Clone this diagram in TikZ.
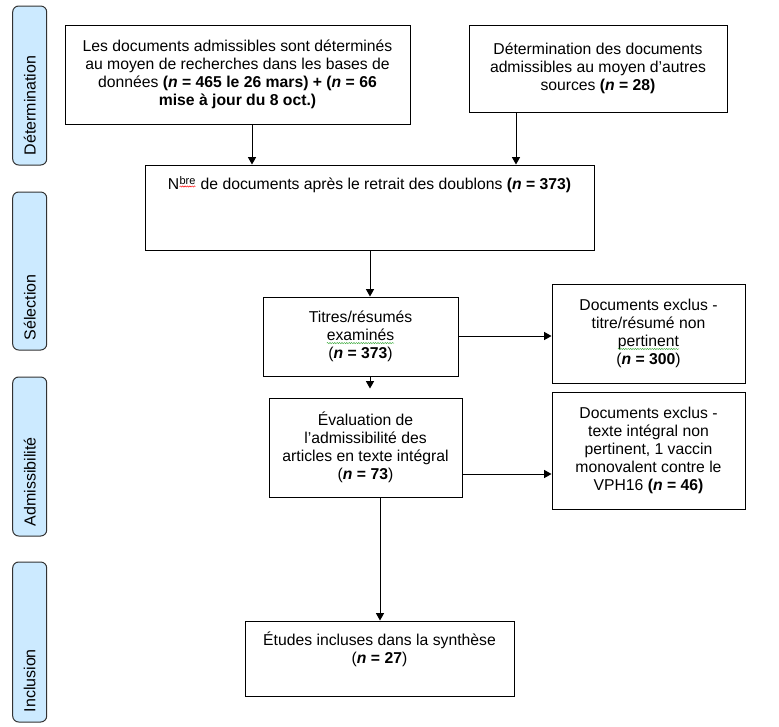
\documentclass[tikz,border=0pt]{standalone}
\usepackage{fontspec}
\setmainfont{Liberation Sans}
\usetikzlibrary{arrows.meta,decorations.pathmorphing}
\definecolor{phasefill}{RGB}{204,234,255}
\definecolor{phaseline}{RGB}{50,50,50}
\definecolor{sqgreen}{RGB}{60,170,60}
\newcommand\sqg[2]{\tikz[baseline=(q.base)]{\node[inner sep=0pt,outer sep=0pt,minimum width=0pt,minimum height=0pt,draw=none,fill=none,shape=rectangle](q){#2};\draw[#1,line width=0.35pt,decorate,decoration={snake,amplitude=0.45pt,segment length=1.8pt}]([yshift=-1.8pt]q.base west)--([yshift=-1.8pt]q.base east);}}
\newcommand\nb[1]{\textbf{\textit{n}~=~#1}}
\begin{document}
\begin{tikzpicture}[x=0.75pt,y=-0.75pt,
  fnt/.style={font=\fontsize{11.8}{13.5}\selectfont},
  box/.style={draw,line width=0.75pt,align=center,inner sep=0pt,fnt},
  txt/.style={align=center,inner sep=0pt,fnt},
  phase/.style={draw=phaseline,fill=phasefill,line width=0.75pt,rounded corners=4.5pt,inner sep=0pt,minimum width=25.5pt},
  phasetxt/.style={rotate=90,anchor=west,inner sep=0pt,font=\fontsize{12}{14}\selectfont},
  arr/.style={line width=0.75pt,-{Triangle[length=5.5pt,width=6pt]}}]
\useasboundingbox (0,0) rectangle (779,726);
% phases
\node[phase,minimum height=119.25pt] (p1) at (29.7,85.5) {};
\node[phasetxt] (p1t) at ([yshift=7.5pt]p1.south) {Détermination};
\node[phase,minimum height=118.5pt] (p2) at (29.7,271) {};
\node[phasetxt] (p2t) at ([yshift=7.5pt]p2.south) {Sélection};
\node[phase,minimum height=119.25pt] (p3) at (29.7,456.5) {};
\node[phasetxt] (p3t) at ([yshift=7.5pt]p3.south) {Admissibilité};
\node[phase,minimum height=120pt] (p4) at (29.7,642) {};
\node[phasetxt] (p4t) at ([yshift=7.5pt]p4.south) {Inclusion};
% boxes
\node[box,minimum width=258.75pt,minimum height=74.25pt] (b1) at (237.5,74.5)
  {Les documents admissibles sont déterminés\\au moyen de recherches dans les bases de\\données \textbf{(\textit{n} = 465 le 26 mars) + (\textit{n} = 66}\\\textbf{mise à jour du 8 oct.)}};
\node[box,minimum width=193.5pt,minimum height=65.25pt] (b2) at (598,68.5)
  {Détermination des documents\\admissibles au moyen d’autres\\sources \textbf{(\textit{n} = 28)}};
\node[box,minimum width=336.75pt,minimum height=63.75pt] (b3) at (369.5,207.5) {};
\node[txt,anchor=north] (b3t) at ([yshift=-8.5pt]b3.north)
  {N\textsuperscript{\sqg{red}{bre}} de documents après le retrait des doublons \textbf{(\textit{n} = 373)}};
\node[box,minimum width=146.25pt,minimum height=59.25pt] (b4) at (360.5,336.5)
  {Titres/résumés\\\sqg{sqgreen}{examinés}\\(\nb{373})};
\node[box,minimum width=144.75pt,minimum height=74.25pt] (b5) at (648.5,333.5)
  {Documents exclus -\\titre/résumé non\\\sqg{sqgreen}{pertinent}\\(\nb{300})};
\node[box,minimum width=144.75pt,minimum height=74.25pt] (b6) at (365.5,447.5)
  {Évaluation de\\l’admissibilité des\\articles en texte intégral\\(\nb{73})};
\node[box,minimum width=144.75pt,minimum height=87.75pt] (b7) at (648.5,450.5)
  {Documents exclus -\\texte intégral non\\pertinent, 1 vaccin\\monovalent contre le\\VPH16 \textbf{(\textit{n} = 46)}};
\node[box,minimum width=201.75pt,minimum height=56.25pt] (b8) at (379.5,658.5) {};
\node[txt,anchor=north] (b8t) at ([yshift=-8.5pt]b8.north)
  {Études incluses dans la synthèse\\(\nb{27})};
% connector guides
\coordinate (xa) at (252,0);
\coordinate (xb) at (516,0);
\coordinate (xc) at (370,0);
\coordinate (xd) at (380,0);
\coordinate (ya) at (0,336);
\coordinate (yb) at (0,474);
% connectors
\draw[arr] (b1.south -| xa) -- (b3.north -| xa);
\draw[arr] (b2.south -| xb) -- (b3.north -| xb);
\draw[arr] (b3.south -| xc) -- (b4.north -| xc);
\draw[arr] (b4.east |- ya) -- (b5.west |- ya);
\draw[arr,shorten >=6.75pt] (b4.south -| xc) -- (b6.north -| xc);
\draw[arr] (b6.east |- yb) -- (b7.west |- yb);
\draw[arr] (b6.south -| xd) -- (b8.north -| xd);
\end{tikzpicture}
\end{document}
